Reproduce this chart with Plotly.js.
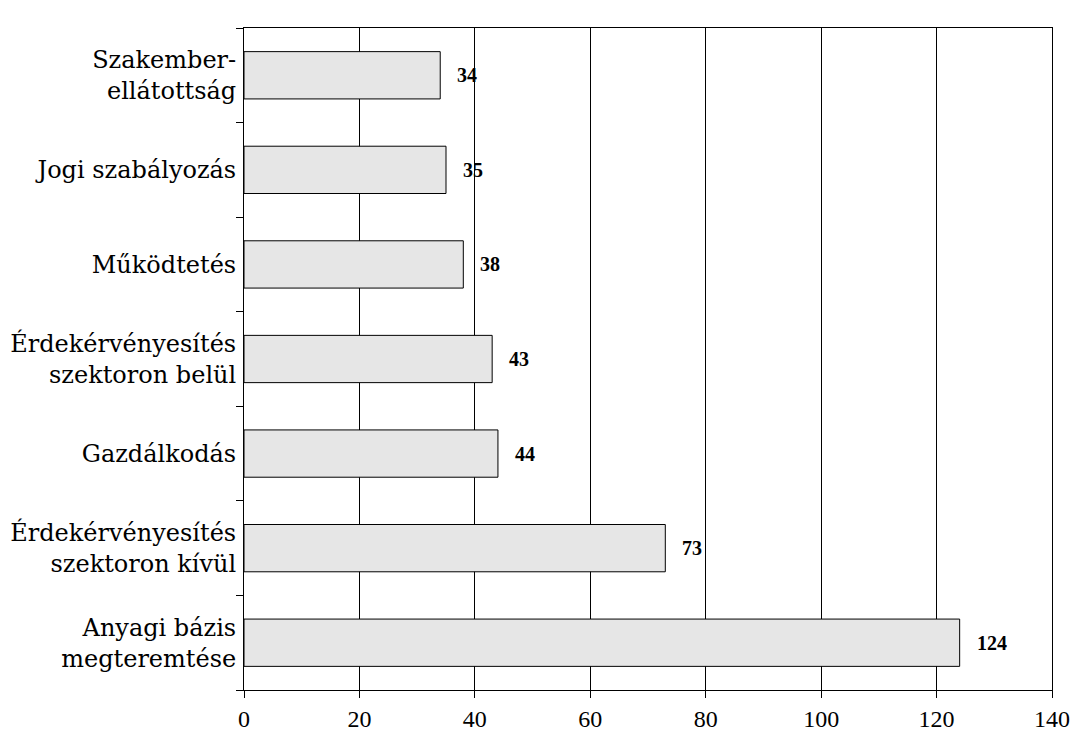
<!DOCTYPE html>
<html><head><meta charset="utf-8">
<script src="https://cdn.plot.ly/plotly-3.0.1.min.js"></script>
<style>html,body{margin:0;padding:0;background:#fff}#chart{width:1073px;height:752px}</style>
</head><body><div id="chart"></div>
<script>
const categories = [
  "Anyagi bázis<br>megteremtése",
  "Érdekérvényesítés<br>szektoron kívül",
  "Gazdálkodás",
  "Érdekérvényesítés<br>szektoron belül",
  "Működtetés",
  "Jogi szabályozás",
  "Szakember-<br>ellátottság"
];
const values = [124, 73, 44, 43, 38, 35, 34];
const xTicks = [0, 20, 40, 60, 80, 100, 120, 140];

const serifFam = "Liberation Serif, serif";
const labelFam = "DejaVu Serif, serif";

const trace = {
  type: 'bar',
  orientation: 'h',
  x: values,
  y: categories,
  width: 0.5,
  marker: {color: '#e6e6e6', line: {color: '#000', width: 1}},
  hoverinfo: 'none'
};

const annotations = values.map((v, i) => ({
  x: v, y: categories[i], xref: 'x', yref: 'y',
  text: '<b>' + v + '</b>', showarrow: false,
  xanchor: 'left', xshift: 15,
  font: {family: serifFam, size: 20, color: '#000'}
}));

const layout = {
  width: 1073, height: 752,
  margin: {l: 244, r: 21, t: 28, b: 62},
  paper_bgcolor: '#fff', plot_bgcolor: '#fff',
  showlegend: false,
  bargap: 0.5,
  font: {family: serifFam, size: 23, color: '#000'},
  xaxis: {
    range: [0, 140], tickvals: xTicks, ticktext: xTicks.map(String),
    showgrid: true, gridcolor: '#000', gridwidth: 1,
    showline: true, linecolor: '#000', linewidth: 1, mirror: true,
    ticks: 'outside', ticklen: 7, tickcolor: '#000',
    zeroline: false, fixedrange: true,
    tickfont: {family: serifFam, size: 24}
  },
  yaxis: {
    type: 'category', categoryorder: 'array', categoryarray: categories,
    range: [-0.5, 6.5],
    showgrid: false,
    showline: true, linecolor: '#000', linewidth: 1, mirror: true,
    ticks: 'outside', ticklen: 7, tickcolor: '#000', tickson: 'boundaries',
    ticklabelstandoff: 2,
    tickfont: {family: labelFam, size: 24},
    fixedrange: true
  },
  annotations: annotations
};

Plotly.newPlot('chart', [trace], layout, {displayModeBar: false, staticPlot: true});
</script></body></html>
